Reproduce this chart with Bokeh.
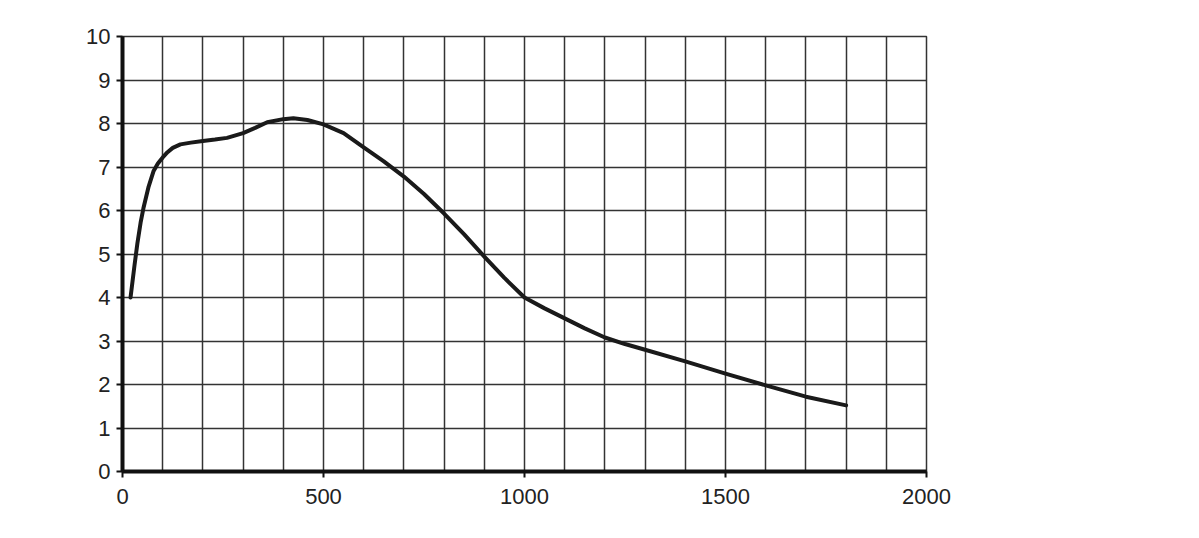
from bokeh.plotting import figure
from bokeh.models import Range1d, FixedTicker
from bokeh.embed import file_html
from bokeh.resources import INLINE

x_vals = [20, 30, 37, 45, 52, 65, 77, 88, 100, 112, 125, 144, 170, 200, 230, 260, 300, 330, 360, 400, 425, 460, 500, 550,
          600, 650, 700, 750, 800, 850, 900, 950, 1000, 1050, 1100, 1150, 1200, 1250, 1300, 1400, 1500, 1600, 1700, 1800]
y_vals = [4.0, 4.75, 5.24, 5.72, 6.05, 6.55, 6.9, 7.08, 7.22, 7.34, 7.44, 7.52, 7.56, 7.6, 7.63, 7.67, 7.78, 7.9, 8.03, 8.1, 8.12, 8.08, 7.98, 7.78,
          7.45, 7.13, 6.78, 6.38, 5.93, 5.45, 4.94, 4.45, 4.0, 3.75, 3.52, 3.29, 3.08, 2.93, 2.8, 2.53, 2.25, 1.98, 1.72, 1.52]

x_ticks = [0, 500, 1000, 1500, 2000]
y_ticks = list(range(0, 11))
x_grid = list(range(0, 2001, 100))

p = figure(width=1199, height=538, output_backend="svg", toolbar_location=None,
           x_range=Range1d(0, 2000), y_range=Range1d(0, 10),
           min_border_left=122, min_border_right=273, min_border_top=36, min_border_bottom=67)
p.outline_line_color = "#333333"
p.outline_line_width = 1.5
p.background_fill_color = "white"
p.border_fill_color = "white"

p.xgrid.ticker = FixedTicker(ticks=x_grid)
p.ygrid.ticker = FixedTicker(ticks=y_ticks)
for g in (p.xgrid, p.ygrid):
    g.grid_line_color = "#333333"
    g.grid_line_width = 1.5
    g.grid_line_alpha = 1.0

p.xaxis.ticker = FixedTicker(ticks=x_ticks)
p.yaxis.ticker = FixedTicker(ticks=y_ticks)
for ax in (p.xaxis, p.yaxis):
    ax.axis_line_width = 4
    ax.axis_line_color = "#111111"
    ax.major_tick_line_color = "#111111"
    ax.major_tick_line_width = 2
    ax.major_tick_out = 6
    ax.major_tick_in = 0
    ax.minor_tick_line_color = None
    ax.major_label_text_font = "Liberation Sans"
    ax.major_label_text_font_size = "22px"
    ax.major_label_text_color = "#222222"
p.xaxis.major_label_standoff = 11
p.yaxis.major_label_standoff = 6

p.line(x_vals, y_vals, line_color="#1a1a1a", line_width=4, line_join="round", line_cap="round")

open("out.html", "w").write(file_html(p, INLINE))
